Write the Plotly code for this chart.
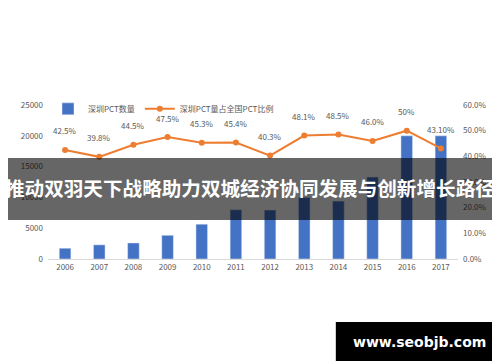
import plotly.graph_objects as go

years = ["2006", "2007", "2008", "2009", "2010", "2011", "2012", "2013", "2014", "2015", "2016", "2017"]
pct_count = [1750, 2300, 2600, 3850, 5650, 8000, 7950, 10000, 9400, 13300, 20000, 20000]
pct_share = [42.5, 39.8, 44.5, 47.5, 45.3, 45.4, 40.3, 48.1, 48.5, 46.0, 50.0, 43.1]
share_labels = ["42.5%", "39.8%", "44.5%", "47.5%", "45.3%", "45.4%", "40.3%", "48.1%", "48.5%", "46.0%", "50%", "43.10%"]
left_ticks = [0, 5000, 10000, 15000, 20000, 25000]
right_ticks = [0, 10, 20, 30, 40, 50, 60]
right_tick_text = ["0.0%", "10.0%", "20.0%", "30.0%", "40.0%", "50.0%", "60.0%"]

title_text = "推动双羽天下战略助力双城经济协同发展与创新增长路径"
watermark = "www.seobjb.com"

gray = "#595959"
fig = go.Figure()
fig.add_trace(go.Bar(x=years, y=pct_count, name="深圳PCT数量", marker_color="#4472C4",
                     width=0.34))
fig.add_trace(go.Scatter(x=years, y=pct_share, name="深圳PCT量占全国PCT比例", yaxis="y2",
                         mode="lines+markers", line=dict(color="#ED7D31", width=2),
                         marker=dict(size=6, color="#ED7D31")))

for i, (v, lab) in enumerate(zip(pct_share, share_labels)):
    fig.add_annotation(x=i, y=v, xref="x", yref="y2", text=lab, showarrow=False, yshift=19,
                       font=dict(size=8, color=gray))

# dark overlay band
fig.add_shape(type="rect", xref="paper", yref="paper", x0=-0.12, x1=1.15,
              y0=0.253, y1=0.656, fillcolor="rgba(0,0,0,0.6)", line_width=0, layer="above")
fig.add_annotation(xref="paper", yref="paper", x=0.4925, y=0.465, text="<b>" + title_text + "</b>",
                   showarrow=False, font=dict(size=19.6, color="white", family="Noto Sans CJK SC"),
                   xanchor="center", yanchor="middle")

# watermark box
fig.add_shape(type="rect", xref="paper", yref="paper", x0=0.702, x1=1.115,
              y0=-0.662, y1=-0.409, fillcolor="black", line_width=0, layer="above")
fig.add_annotation(xref="paper", yref="paper", x=0.907, y=-0.536, text="<b>" + watermark + "</b>",
                   showarrow=False, font=dict(size=14, color="white", family="DejaVu Sans"),
                   xanchor="center", yanchor="middle")

fig.update_layout(
    width=500, height=362,
    margin=dict(l=40, r=50, t=97, b=111),
    plot_bgcolor="white", paper_bgcolor="white",
    font=dict(family="Noto Sans CJK SC", size=8, color=gray),
    showlegend=True,
    legend=dict(orientation="h", x=0.0, y=0.975, xanchor="left", yanchor="middle",
                font=dict(size=8, color=gray), bgcolor="rgba(0,0,0,0)", itemwidth=30),
    bargap=0.66,
    xaxis=dict(type="category", range=[-0.5, 11.5], showgrid=False, showline=True,
               linecolor="#D9D9D9", linewidth=1, ticks="", tickfont=dict(size=8, color=gray),
               zeroline=False),
    yaxis=dict(range=[0, 25000], tickvals=left_ticks, tickformat="d", showgrid=False,
               zeroline=False, showline=False, tickfont=dict(size=8, color=gray),
               ticklabelstandoff=4),
    yaxis2=dict(range=[0, 60], tickvals=right_ticks, ticktext=right_tick_text, overlaying="y",
                side="right", showgrid=False, zeroline=False, showline=False,
                tickfont=dict(size=8, color=gray), ticklabelstandoff=4),
)

fig.write_html("out.html")
